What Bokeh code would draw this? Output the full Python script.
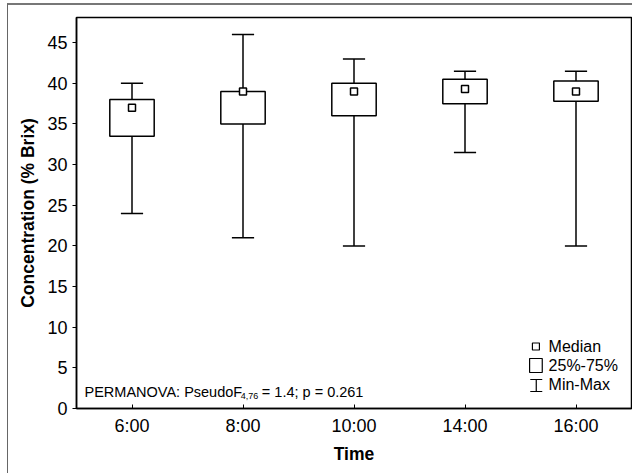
from bokeh.plotting import figure
from bokeh.models import Range1d, FactorRange, Label, FixedTicker
from bokeh.embed import file_html
from bokeh.resources import INLINE

# ---- data ----
times = ["6:00", "8:00", "10:00", "14:00", "16:00"]
medians = [37.0, 39.0, 39.0, 39.3, 39.0]
q1 = [33.5, 35.0, 36.0, 37.5, 37.8]
q3 = [38.0, 39.0, 40.0, 40.5, 40.3]
mins = [24.0, 21.0, 20.0, 31.5, 20.0]
maxs = [40.0, 46.0, 43.0, 41.5, 41.5]
y_ticks = [0, 5, 10, 15, 20, 25, 30, 35, 40, 45]
stat_text = ["PERMANOVA: PseudoF", "4,76", " = 1.4; p = 0.261"]
legend_labels = ["Median", "25%-75%", "Min-Max"]

FONT = "Liberation Sans"
BOX_W = 0.4
CAP = 0.1

p = figure(width=625, height=470, output_backend="svg", toolbar_location=None,
           x_range=FactorRange(*times, range_padding=0, factor_padding=0),
           y_range=Range1d(0, 48.1),
           min_border_left=68, min_border_right=2, min_border_top=12, min_border_bottom=67)
p.styles = {"margin-left": "7px", "margin-top": "3px",
            "border-left": "1px solid #666666", "border-top": "2px solid #777777"}
p.grid.visible = False
p.outline_line_color = "black"
p.outline_line_width = 1.5
p.background_fill_color = "white"
p.border_fill_color = "white"

# axes
p.yaxis.ticker = FixedTicker(ticks=y_ticks)
p.yaxis.minor_tick_line_color = None
p.yaxis.major_tick_in = 0
p.yaxis.major_tick_out = 4
p.xaxis.major_tick_in = 4
p.xaxis.major_tick_out = 0
for ax in (p.xaxis, p.yaxis):
    ax.axis_line_color = "black"
    ax.axis_line_width = 1.5
    ax.major_tick_line_color = "black"
    ax.major_tick_line_width = 1
    ax.major_label_text_font = FONT
    ax.major_label_text_font_size = "18px"
    ax.major_label_text_color = "black"
    ax.axis_label_text_font = FONT
    ax.axis_label_text_font_size = "17.5px"
    ax.axis_label_text_font_style = "bold"
    ax.axis_label_text_color = "black"
p.yaxis.major_label_standoff = 5
p.xaxis.major_label_standoff = 7
p.xaxis.axis_label = "Time"
p.yaxis.axis_label = "Concentration (% Brix)"
p.xaxis.axis_label_standoff = 5
p.yaxis.axis_label_standoff = 6

# whiskers
p.segment(x0=times, y0=mins, x1=times, y1=maxs, line_color="black", line_width=1.5)
p.segment(x0=[(t, -CAP) for t in times], x1=[(t, CAP) for t in times], y0=maxs, y1=maxs,
          line_color="black", line_width=1.5)
p.segment(x0=[(t, -CAP) for t in times], x1=[(t, CAP) for t in times], y0=mins, y1=mins,
          line_color="black", line_width=1.5)
# boxes
p.vbar(x=times, width=BOX_W, bottom=q1, top=q3, fill_color="white", line_color="black",
       line_width=1.5)
# medians
p.scatter(x=times, y=medians, marker="square", size=7, fill_color="white",
          line_color="black", line_width=1.5)

# legend (drawn by hand)
last = times[-1]
p.scatter(x=[(last, -0.361)], y=[7.63], marker="square", size=7, fill_color="white",
          line_color="black", line_width=1.2)
p.quad(left=[(last, -0.418)], right=[(last, -0.304)], bottom=[4.43], top=[6.15],
       fill_color="white", line_color="black", line_width=1.2)
p.segment(x0=[(last, -0.358)], x1=[(last, -0.358)], y0=[2.09], y1=[3.57],
          line_color="black", line_width=1.2)
p.segment(x0=[(last, -0.412), (last, -0.412)], x1=[(last, -0.304), (last, -0.304)],
          y0=[2.09, 3.57], y1=[2.09, 3.57], line_color="black", line_width=1.2)
for lab, yy in zip(legend_labels, [7.63, 5.29, 2.95]):
    p.add_layout(Label(x=4.5 - 0.247, y=yy, text=lab, text_font=FONT,
                       text_font_size="16px", text_baseline="middle", text_color="black"))

# statistics annotation
p.add_layout(Label(x=0.5 - 0.428, y=1.97, text=stat_text[0], text_font=FONT,
                   text_font_size="14.5px", text_baseline="alphabetic", text_color="black"))
p.add_layout(Label(x=0.5 + (240 - 131.4) / 110.8, y=1.55, text=stat_text[1], text_font=FONT,
                   text_font_size="9px", text_baseline="alphabetic", text_color="black"))
p.add_layout(Label(x=0.5 + (261 - 131.4) / 110.8, y=1.97, text=stat_text[2], text_font=FONT,
                   text_font_size="14.5px", text_baseline="alphabetic", text_color="black"))

open("out.html", "w").write(file_html(p, INLINE))
